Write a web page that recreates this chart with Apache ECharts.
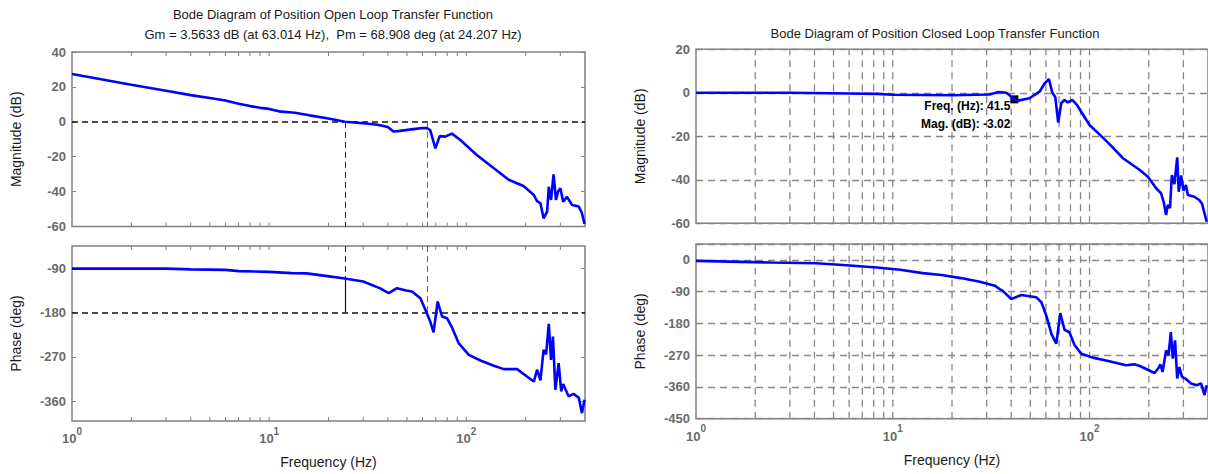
<!DOCTYPE html>
<html><head><meta charset="utf-8">
<script src="https://cdn.jsdelivr.net/npm/echarts@6/dist/echarts.min.js"></script>
<style>html,body{margin:0;padding:0;background:#fff}#c{width:1208px;height:474px}</style>
</head><body><div id="c"></div>
<script>
// ---------------- data ----------------
const olMagFreq = [1,2,3,4,5,6,7,8,9,10,11.2,13.5,16,20,24.2,30,35.5,40,42.7,46,54,59.6,63,65.6,69.7,73.3,78.2,84.5,93.3,113,138,164,195,220,228.6,237.7,246.6,257,262,269,277,285,292,300,310,324,344,372,385,398];
const olMag = [27.4,21.2,17.8,15.3,13.6,12.2,10.4,9.0,8.0,7.4,6.0,5.2,3.7,1.9,0,-0.8,-1.7,-3.0,-5.6,-5.2,-4.2,-3.6,-3.56,-4.8,-15.2,-8.2,-8.5,-6.8,-10.4,-19,-26.6,-33.2,-36.8,-42,-45.5,-46.7,-55.3,-51.5,-37.2,-44.8,-30.1,-44.8,-40,-38.1,-45.8,-43,-47.7,-48.6,-52,-58.5];

const olPhaseFreq = [1,3,4,6,7,10,13,15.5,19.3,24.2,30,36.6,40.4,44.5,49.5,53,58.5,62,65.6,68.2,71.6,75.3,79.8,84.5,91.4,103,118,138,155,181,203,220,228.6,237.7,246.6,254,262,269,275,283,294,303,310,330,350,372,386,398];
const olPhase = [-90.8,-90.8,-92.5,-93.5,-96,-97.5,-100,-100.5,-105.6,-111,-117,-131,-140.5,-130.6,-135.3,-137.4,-150.8,-174.5,-198,-220,-157.6,-188,-191.4,-209.6,-242,-265.8,-277.3,-288,-294.8,-294.8,-309.8,-320,-296,-317.8,-255.6,-265,-202.9,-275.9,-228.7,-336.7,-282.6,-340,-325,-350,-345,-353,-384,-357];

const clMagFreq = [1,3,6,8.3,10,20,31,34.5,37.8,41.5,43.3,49.5,55.7,59.2,62.2,64.7,67,69.3,71.8,74.6,77.6,81.7,86.3,100,112,126,148,180,198,218,231,238,245,250,256.5,262,270,279,284,292,300,309,316,341,361,373,394];
const clMag = [0,0,-0.3,-0.5,-0.9,-1.1,-0.8,0.4,0,-3.02,-3.6,-2.5,0.5,4.4,6.3,0,-2,-13.7,-4.8,-3.3,-4.4,-3.3,-5.6,-14.8,-19,-23.5,-30.1,-35.5,-38.6,-43.9,-46.2,-50.1,-56.2,-51.6,-53,-37.8,-42,-29.7,-45.5,-38,-45,-42.4,-47,-47.8,-49.3,-51,-59.3];

const clPhaseFreq = [1,2.4,4.1,5.8,8.3,10.9,14.2,17.7,22.2,27.7,33,34.9,36.1,40,45,53.6,56.9,60.3,64,67.8,71,74.6,79,84,90.8,104,126,153,169,179,214,225,229,235,245,252,259,265,272,279,286,295,310,328,350,369,384,394];
const clPhase = [-2.8,-7.5,-9.4,-15,-21.6,-28,-37.6,-43,-51.6,-62,-73,-82.6,-87,-110.8,-99.5,-106,-120,-158,-209.5,-237.5,-151,-198,-205,-242,-265.7,-277,-287.4,-298.7,-296,-300,-320.4,-305,-295.8,-317.6,-256.4,-270,-204.8,-280,-228,-336,-303.6,-331.6,-338,-350,-355,-350,-383,-355];

// margins and data tip
const gmDb = 3.5633, gmFreq = 63.014, pmDeg = 68.908, pmFreq = 24.207;
const tipFreq = 41.5, tipMag = -3.02;

// tick values
const xTickFreqs = [2,3,4,5,6,7,8,9,10,20,30,40,50,60,70,80,90,100,200,300];
const xLabelFreqs = [1,10,100];
const olPhaseTicks = [-360,-270,-180,-90];

// ---------------- styling ----------------
const FONT = '"Liberation Sans", Arial, sans-serif';
const TICK = '#6a6a6a';
const FRAME = '#808080';
const BLUE = '#0000ff';
const XMIN = 1, XMAX = 400;

const grids = [
  {left: 72, top: 52, width: 513, height: 174.5},
  {left: 72, top: 246, width: 513, height: 175},
  {left: 696, top: 49.3, width: 513, height: 174},
  {left: 696, top: 244, width: 513, height: 174.7}
].map(g => Object.assign({show: true, borderColor: FRAME, borderWidth: 1.5, backgroundColor: '#fff'}, g));

const yRanges = [[-60, 40], [-400, -45], [-60, 20], [-450, 45]];

function xAxis(gi, labels, withName) {
  return {
    type: 'log', logBase: 10, gridIndex: gi, min: XMIN, max: XMAX,
    axisLine: {show: false}, axisTick: {show: false}, splitLine: {show: false},
    axisLabel: {
      show: labels, showMaxLabel: false, margin: 5, verticalAlign: 'top',
      formatter: v => {
        const hit = xLabelFreqs.find(f => Math.abs(f - v) < 1e-6);
        return hit ? '{b|10}{s|' + Math.round(Math.log10(hit)) + '}' : '';
      },
      rich: {
        b: {fontSize: 13, fontWeight: 'bold', color: TICK, fontFamily: FONT, lineHeight: 19, verticalAlign: 'bottom'},
        s: {fontSize: 10, fontWeight: 'bold', color: TICK, fontFamily: FONT, lineHeight: 19, verticalAlign: 'top'}
      }
    },
    name: withName ? 'Frequency (Hz)' : '', nameLocation: 'middle', nameGap: 34,
    nameTextStyle: {fontSize: 14, color: '#1a1a1a', fontFamily: FONT}
  };
}

function yAxis(gi, name, opts) {
  const r = yRanges[gi];
  const a = {
    type: 'value', gridIndex: gi, min: r[0], max: r[1],
    axisLine: {show: false},
    axisTick: {show: true, inside: true, length: 4, lineStyle: {color: FRAME}},
    axisLabel: {fontSize: 13, fontWeight: 'bold', color: TICK, fontFamily: FONT, margin: 6, showMaxLabel: true},
    splitLine: {show: false},
    name: name, nameLocation: 'middle', nameGap: 49,
    nameTextStyle: {fontSize: 14, color: '#1a1a1a', fontFamily: FONT}
  };
  return Object.assign(a, opts || {});
}

function mirrorY(gi, opts) {
  const r = yRanges[gi];
  return Object.assign({
    type: 'value', gridIndex: gi, min: r[0], max: r[1], position: 'right',
    axisLine: {show: false}, axisLabel: {show: false}, splitLine: {show: false},
    axisTick: {show: true, inside: true, length: 4, lineStyle: {color: FRAME}}
  }, opts || {});
}

function xTickSeries(gi, asGrid) {
  const r = yRanges[gi];
  return {
    type: 'custom', xAxisIndex: gi, yAxisIndex: gi, silent: true, clip: false, z: 1,
    data: xTickFreqs.map(f => [f, r[0]]), encode: {x: 0, y: 1},
    renderItem: (p, api) => {
      const f = api.value(0);
      const b = api.coord([f, r[0]]);
      const t = api.coord([f, r[1]]);
      if (asGrid) {
        return {type: 'line', shape: {x1: b[0], y1: b[1], x2: t[0], y2: t[1]},
                style: {stroke: '#888888', lineWidth: 1.3, lineDash: [7, 5]}};
      }
      return {type: 'group', children: [
        {type: 'line', shape: {x1: b[0], y1: b[1], x2: b[0], y2: b[1] - 4}, style: {stroke: FRAME, lineWidth: 1}},
        {type: 'line', shape: {x1: t[0], y1: t[1], x2: t[0], y2: t[1] + 4}, style: {stroke: FRAME, lineWidth: 1}}
      ]};
    }
  };
}

const pair = (xs, ys) => xs.map((x, i) => [x, ys[i]]);
const lineBase = {type: 'line', showSymbol: false, symbol: 'none', lineStyle: {color: BLUE, width: 2.6}, itemStyle: {color: BLUE}, z: 5, animation: false};
const dashBlack = {color: '#111', width: 1.6, type: [6, 4]};
const dashThin = {color: '#222', width: 1, type: [6, 4]};
const dashGray = {color: '#666', width: 1, type: [6, 4]};
const pmPhase = -180 + pmDeg;

const gridDash = {show: true, lineStyle: {color: '#888888', width: 1.3, type: [7, 5]}};

const option = {
  animation: false,
  textStyle: {fontFamily: FONT},
  title: [
    {text: 'Bode Diagram of Position Open Loop Transfer Function\nGm = 3.5633 dB (at 63.014 Hz),  Pm = 68.908 deg (at 24.207 Hz)',
     left: 328, top: 0, textAlign: 'center',
     textStyle: {fontSize: 13, fontWeight: 'normal', color: '#1a1a1a', lineHeight: 19.5, fontFamily: FONT}},
    {text: 'Bode Diagram of Position Closed Loop Transfer Function',
     left: 930, top: 19, textAlign: 'center',
     textStyle: {fontSize: 13, fontWeight: 'normal', color: '#1a1a1a', lineHeight: 18, fontFamily: FONT}}
  ],
  grid: grids,
  xAxis: [xAxis(0, false, false), xAxis(1, true, true), xAxis(2, false, false), xAxis(3, true, true)],
  yAxis: [
    yAxis(0, 'Magnitude (dB)', {interval: 20}),
    yAxis(1, 'Phase (deg)', {axisLabel: {fontSize: 13, fontWeight: 'bold', color: TICK, fontFamily: FONT, margin: 6, customValues: olPhaseTicks},
                             axisTick: {show: true, inside: true, length: 4, lineStyle: {color: FRAME}, customValues: olPhaseTicks}}),
    yAxis(2, 'Magnitude (dB)', {interval: 20, splitLine: gridDash}),
    yAxis(3, 'Phase (deg)', {interval: 90, splitLine: gridDash,
                             axisLabel: {fontSize: 13, fontWeight: 'bold', color: TICK, fontFamily: FONT, margin: 6, showMaxLabel: false}}),
    mirrorY(0, {interval: 20}),
    mirrorY(1, {axisTick: {show: true, inside: true, length: 4, lineStyle: {color: FRAME}, customValues: olPhaseTicks}})
  ],
  series: [
    xTickSeries(0, false), xTickSeries(1, false), xTickSeries(2, true), xTickSeries(3, true),
    Object.assign({}, lineBase, {
      name: 'olMag', xAxisIndex: 0, yAxisIndex: 0, data: pair(olMagFreq, olMag),
      markLine: {silent: true, symbol: 'none', label: {show: false}, animation: false, z: 3, data: [
        [{coord: [XMIN, 0], lineStyle: dashBlack}, {coord: [XMAX, 0]}],
        [{coord: [pmFreq, 0], lineStyle: dashThin}, {coord: [pmFreq, yRanges[0][0]]}],
        [{coord: [gmFreq, 0], lineStyle: dashGray}, {coord: [gmFreq, yRanges[0][0]]}]
      ]}
    }),
    Object.assign({}, lineBase, {
      name: 'olPhase', xAxisIndex: 1, yAxisIndex: 1, data: pair(olPhaseFreq, olPhase),
      markLine: {silent: true, symbol: 'none', label: {show: false}, animation: false, z: 3, data: [
        [{coord: [XMIN, -180], lineStyle: dashBlack}, {coord: [XMAX, -180]}],
        [{coord: [pmFreq, yRanges[1][1]], lineStyle: dashThin}, {coord: [pmFreq, pmPhase]}],
        [{coord: [pmFreq, pmPhase], lineStyle: {color: '#111', width: 1.2, type: 'solid'}}, {coord: [pmFreq, -180]}],
        [{coord: [gmFreq, yRanges[1][1]], lineStyle: dashGray}, {coord: [gmFreq, -180]}]
      ]}
    }),
    Object.assign({}, lineBase, {
      name: 'clMag', xAxisIndex: 2, yAxisIndex: 2, data: pair(clMagFreq, clMag),
      markPoint: {silent: true, animation: false, data: [{
        coord: [tipFreq, tipMag], symbol: 'rect', symbolSize: 8, itemStyle: {color: '#000'},
        label: {show: true, formatter: 'Freq. (Hz): ' + tipFreq + '\nMag. (dB): ' + tipMag,
                position: [0, 2], align: 'right', verticalAlign: 'top',
                fontSize: 12, fontWeight: 'bold', color: '#000', lineHeight: 18, fontFamily: FONT}
      }]}
    }),
    Object.assign({}, lineBase, {name: 'clPhase', xAxisIndex: 3, yAxisIndex: 3, data: pair(clPhaseFreq, clPhase)})
  ]
};

const chart = echarts.init(document.getElementById('c'), null, {renderer: 'svg'});
chart.setOption(option);
</script>
</body></html>
